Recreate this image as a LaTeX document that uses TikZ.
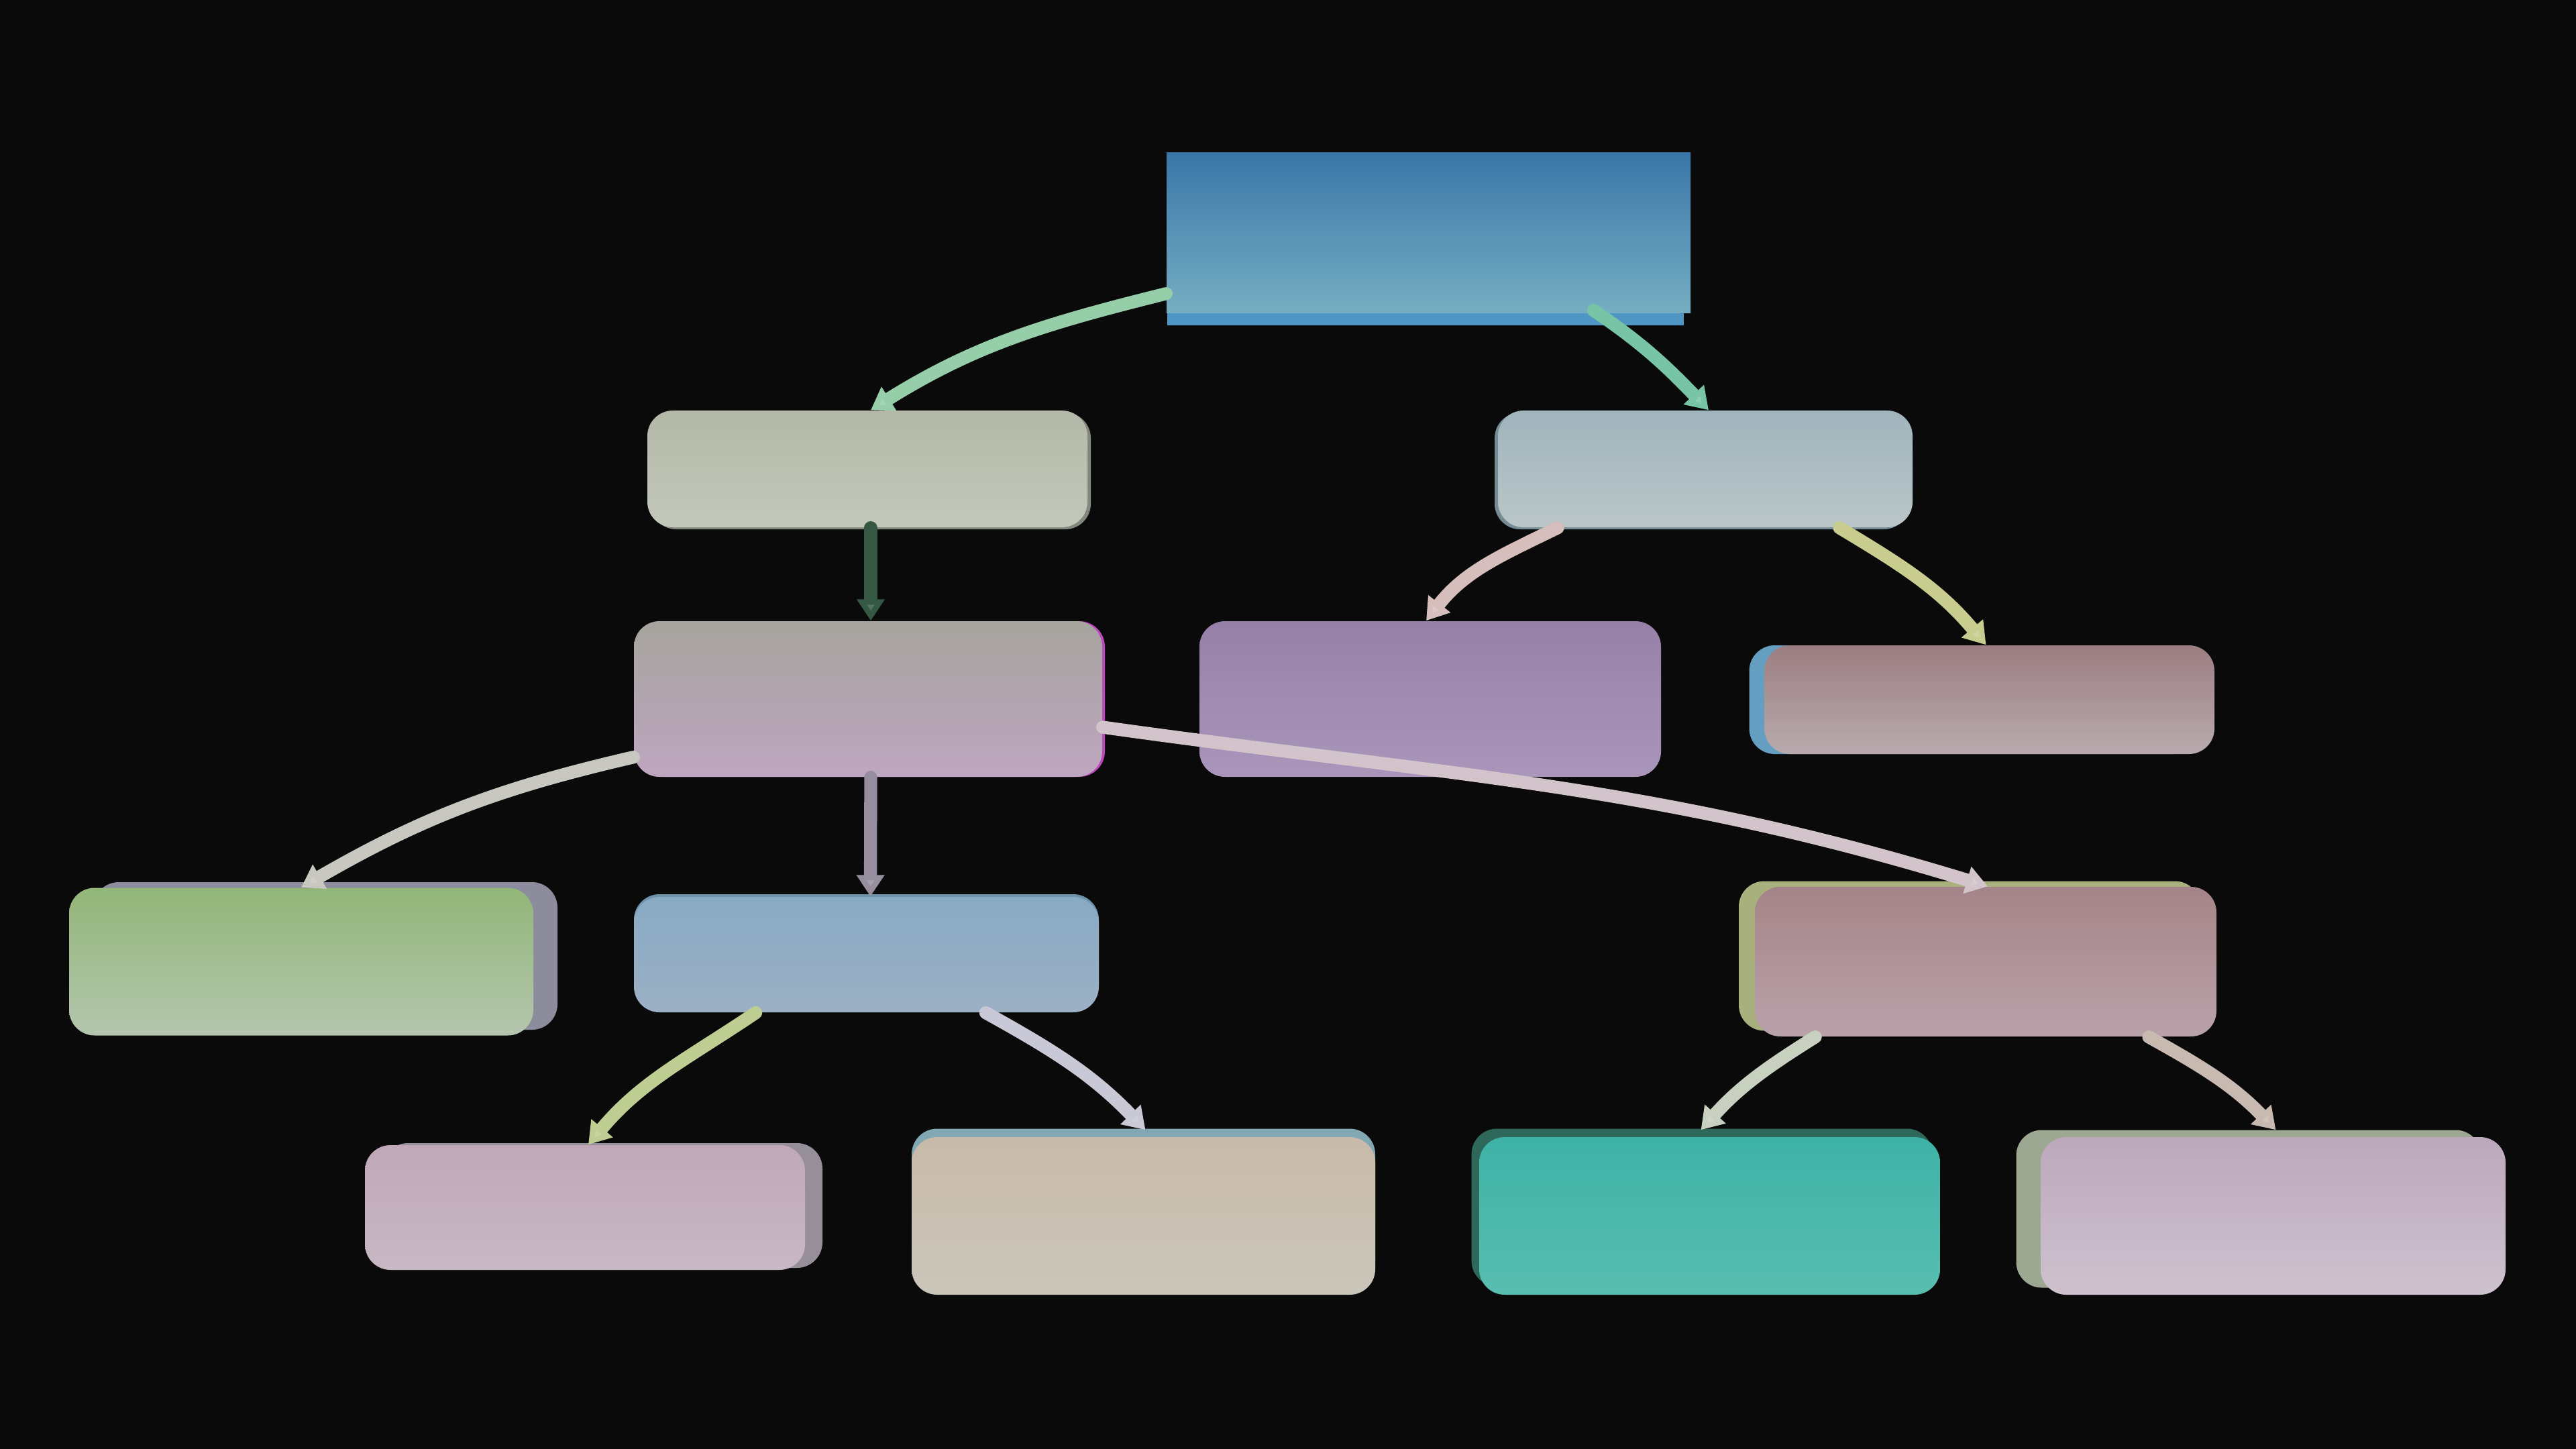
\documentclass[tikz,border=0pt]{standalone}
\usetikzlibrary{arrows.meta,calc}
\definecolor{bg}{HTML}{0A0A0A}
% connector colours
\definecolor{cA}{RGB}{150,206,170}
\definecolor{cB}{RGB}{120,196,166}
\definecolor{cC}{RGB}{52,88,68}
\definecolor{cD}{RGB}{214,190,188}
\definecolor{cE}{RGB}{200,204,142}
\definecolor{cF}{RGB}{200,200,192}
\definecolor{cG}{RGB}{150,142,158}
\definecolor{cH}{RGB}{210,196,202}
\definecolor{cI}{RGB}{190,206,146}
\definecolor{cJ}{RGB}{200,200,214}
\definecolor{cK}{RGB}{200,208,192}
\definecolor{cL}{RGB}{200,186,176}
\tikzset{
  box/.style={rounded corners=0.38cm, inner sep=0pt, draw=none},
  sharpbox/.style={inner sep=0pt, draw=none},
  conn/.style={line width=5.5pt, draw=#1, line cap=round,
    -{Triangle[length=0.32cm,width=0.4cm,fill=#1!85!white]}},
}
\begin{document}
\begin{tikzpicture}
\fill[bg] (0,0) rectangle (38.4,-21.6);
\useasboundingbox (0,0) rectangle (38.4,-21.6);

% ---------- depth (side) layers ----------
\node[sharpbox, minimum width=7.7cm, minimum height=2.39cm, fill={rgb,255:red,80;green,150;blue,196}] (rootd) at (21.25,-3.655) {};
\node[box, minimum width=6.56cm, minimum height=1.74cm, fill={rgb,255:red,130;green,136;blue,126}] (ad) at (12.98,-7.02) {};
\node[box, minimum width=6.18cm, minimum height=1.74cm, fill={rgb,255:red,118;green,140;blue,148}] (bd) at (25.37,-7.02) {};
\node[box, minimum width=6.98cm, minimum height=2.32cm, fill={rgb,255:red,190;green,70;blue,190}] (cd) at (12.98,-10.42) {};
\node[box, minimum width=6.71cm, minimum height=1.62cm, fill={rgb,255:red,100;green,158;blue,192}] (ed) at (29.43,-10.43) {};
\node[box, minimum width=6.92cm, minimum height=2.2cm, fill={rgb,255:red,140;green,140;blue,156}] (fd) at (4.85,-14.25) {};
\node[box, minimum width=6.93cm, minimum height=1.72cm, fill={rgb,255:red,110;green,146;blue,170}] (gd) at (12.915,-14.19) {};
\node[box, minimum width=6.88cm, minimum height=2.23cm, fill={rgb,255:red,168;green,176;blue,126}] (hd) at (29.36,-14.25) {};
\node[box, minimum width=6.56cm, minimum height=1.86cm, fill={rgb,255:red,150;green,142;blue,152}] (id) at (8.98,-17.97) {};
\node[box, minimum width=6.91cm, minimum height=2.35cm, fill={rgb,255:red,130;green,168;blue,180}] (jd) at (17.045,-18.0) {};
\node[box, minimum width=6.87cm, minimum height=2.35cm, fill={rgb,255:red,46;green,104;blue,90}] (kd) at (25.37,-18.0) {};
\node[box, minimum width=6.93cm, minimum height=2.35cm, fill={rgb,255:red,156;green,168;blue,146}] (ld) at (33.52,-18.02) {};

% ---------- faces ----------
\node[sharpbox, minimum width=7.81cm, minimum height=2.39cm,
  top color={rgb,255:red,58;green,118;blue,168}, bottom color={rgb,255:red,118;green,174;blue,194}] (root) at (21.295,-3.475) {};
\node[box, minimum width=6.56cm, minimum height=1.74cm,
  top color={rgb,255:red,180;green,184;blue,168}, bottom color={rgb,255:red,194;green,200;blue,186}] (a) at (12.93,-6.99) {};
\node[box, minimum width=6.18cm, minimum height=1.74cm,
  top color={rgb,255:red,160;green,180;blue,188}, bottom color={rgb,255:red,186;green,198;blue,200}] (b) at (25.42,-6.99) {};
\node[box, minimum width=6.98cm, minimum height=2.32cm,
  top color={rgb,255:red,166;green,164;blue,158}, bottom color={rgb,255:red,190;green,166;blue,192}] (c) at (12.94,-10.42) {};
\node[box, minimum width=6.88cm, minimum height=2.32cm,
  top color={rgb,255:red,150;green,128;blue,168}, bottom color={rgb,255:red,170;green,150;blue,186}] (d) at (21.32,-10.42) {};
\node[box, minimum width=6.71cm, minimum height=1.62cm,
  top color={rgb,255:red,156;green,126;blue,130}, bottom color={rgb,255:red,184;green,170;blue,174}] (e) at (29.655,-10.43) {};
\node[box, minimum width=6.92cm, minimum height=2.2cm,
  top color={rgb,255:red,146;green,182;blue,120}, bottom color={rgb,255:red,180;green,198;blue,174}] (f) at (4.49,-14.335) {};
\node[box, minimum width=6.93cm, minimum height=1.72cm,
  top color={rgb,255:red,136;green,170;blue,196}, bottom color={rgb,255:red,156;green,176;blue,196}] (g) at (12.915,-14.23) {};
\node[box, minimum width=6.88cm, minimum height=2.23cm,
  top color={rgb,255:red,164;green,132;blue,136}, bottom color={rgb,255:red,186;green,162;blue,170}] (h) at (29.60,-14.335) {};
\node[box, minimum width=6.56cm, minimum height=1.86cm,
  top color={rgb,255:red,192;green,168;blue,184}, bottom color={rgb,255:red,200;green,184;blue,196}] (i) at (8.72,-18.0) {};
\node[box, minimum width=6.91cm, minimum height=2.35cm,
  top color={rgb,255:red,200;green,186;blue,170}, bottom color={rgb,255:red,202;green,198;blue,186}] (j) at (17.045,-18.125) {};
\node[box, minimum width=6.87cm, minimum height=2.35cm,
  top color={rgb,255:red,62;green,178;blue,166}, bottom color={rgb,255:red,88;green,190;blue,176}] (k) at (25.485,-18.125) {};
\node[box, minimum width=6.93cm, minimum height=2.35cm,
  top color={rgb,255:red,188;green,168;blue,188}, bottom color={rgb,255:red,206;green,194;blue,206}] (l) at (33.885,-18.125) {};

% ---------- connectors ----------
\draw[conn=cA] ($(root.south west)+(0,0.3)$) to[out=194,in=32] ($(a.north)+(0.05,0)$);
\draw[conn=cB] ($(root.south)+(2.46,0.05)$) to[out=-34,in=134] ($(b.north)+(0.05,0)$);
\draw[conn=cC] ($(a.south)+(0.05,0)$) -- ($(c.north)+(0.04,0)$);
\draw[conn=cD] ($(b.south)+(-2.2,0)$) to[out=206,in=52] ($(d.north)+(-0.06,0)$);
\draw[conn=cE] ($(b.south)+(2.0,0)$) to[out=-31,in=130] ($(e.north)+(-0.05,0)$);
\draw[conn=cF] ($(c.south west)+(0,0.3)$) to[out=193,in=30] ($(f.north)+(-0.0,0)$);
\draw[conn=cG] ($(c.south)+(0.04,0)$) -- ($(g.north)+(0.06,0)$);
\draw[conn=cH] ($(c.east)+(0,-0.42)$) to[out=-8,in=163] ($(h.north)+(0.03,0)$);
\draw[conn=cI] ($(g.south)+(-1.65,0)$) to[out=214,in=50] ($(i.north)+(0.05,0)$);
\draw[conn=cJ] ($(g.south)+(1.78,0)$) to[out=-29,in=134] ($(j.north)+(0.03,0.1)$);
\draw[conn=cK] ($(h.south)+(-2.54,0)$) to[out=212,in=48] ($(k.north)+(-0.13,0.1)$);
\draw[conn=cL] ($(h.south)+(2.43,0)$) to[out=-29,in=134] ($(l.north)+(0.04,0.1)$);
\end{tikzpicture}
\end{document}
